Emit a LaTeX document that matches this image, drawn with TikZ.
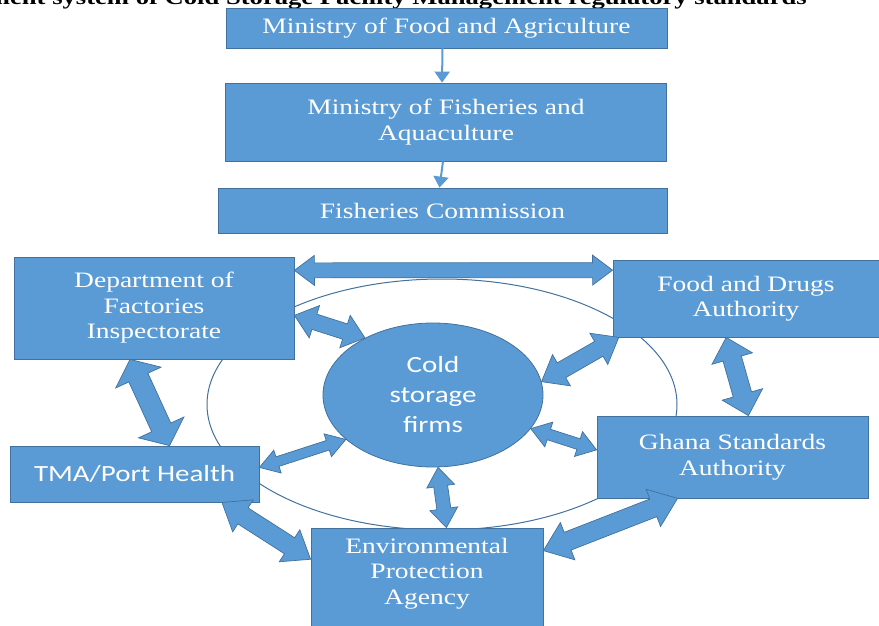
\documentclass[tikz,border=0pt]{standalone}
\usepackage{fontspec}
\setmainfont{Liberation Serif}[FakeStretch=1.25]
\newfontfamily\hubfont{Carlito}[FakeStretch=1.25]
\usepackage{tikz}
\usetikzlibrary{shapes.geometric}
\usetikzlibrary{calc,arrows.meta,positioning}
\definecolor{boxblue}{HTML}{5B9BD5}
\definecolor{boxline}{HTML}{41719C}
\tikzstyle{org}=[draw=boxline, fill=boxblue, line width=0.8pt, inner sep=0, text=white, align=center,
                 font=\fontsize{22}{25.5}\selectfont]
\tikzstyle{sansorg}=[org, font=\hubfont\fontsize{23.2}{30}\selectfont]
\tikzstyle{hub}=[sansorg, ellipse]
\tikzstyle{txt}=[inner sep=0, text=white, align=center, font=\fontsize{22}{25.5}\selectfont]
\tikzstyle{link}=[boxblue, line width=2pt, -{Triangle[width=15pt,length=11pt]}]
\tikzstyle{ring}=[boxline, line width=1pt]
\tikzstyle{fat}=[fill=boxblue, draw=boxline, line width=0.7pt, line join=miter]
% two-headed block arrow: from, to, half shaft, half head, head length
\newcommand{\twoway}[5]{%
  \filldraw[fat] (#1) -- ($(#1)!#5pt!(#2)!#4pt!90:(#2)$) -- ($(#1)!#5pt!(#2)!#3pt!90:(#2)$)
    -- ($(#2)!#5pt!(#1)!#3pt!-90:(#1)$) -- ($(#2)!#5pt!(#1)!#4pt!-90:(#1)$) -- (#2)
    -- ($(#2)!#5pt!(#1)!#4pt!90:(#1)$) -- ($(#2)!#5pt!(#1)!#3pt!90:(#1)$)
    -- ($(#1)!#5pt!(#2)!#3pt!-90:(#2)$) -- ($(#1)!#5pt!(#2)!#4pt!-90:(#2)$) -- cycle;}
\begin{document}
\begin{tikzpicture}[x=1pt, y=-1pt]
    \useasboundingbox (0,0) rectangle (879,626);
    \clip (0,0) rectangle (879,626);
    \node[anchor=base east, inner sep=0, font=\fontsize{21.3}{24}\selectfont\bfseries] (ttl) at (807,5)
        {ment system of Cold Storage Facility Management regulatory standards};
    % chain of command
    \node[org, minimum width=441pt, minimum height=40pt] (mofa) at (446.5,28) {Ministry of Food and Agriculture};
    \node[org, minimum width=441pt, minimum height=78pt] (mofad) at (446,122) {Ministry of Fisheries and\\Aquaculture};
    \node[org, minimum width=449pt, minimum height=45pt] (fc) at (442.5,210.5) {Fisheries Commission};
    \draw[link] ([xshift=-4pt]mofa.south) -- ([xshift=-4pt]mofad.north);
    \draw[link] ([xshift=-3pt]mofad.south) -- ([xshift=-3pt]fc.north);
    % regulators round the firms
    \draw[ring] (442,404.5) ellipse [x radius=235pt, y radius=125.5pt];
    \node[org, minimum width=280pt, minimum height=102pt] (dfi) at (154,308) {Department of\\Factories\\Inspectorate};
    \node[org, minimum width=266pt, minimum height=77pt] (fda) at (746,298.5) {Food and Drugs\\Authority};
    \node[org, minimum width=271pt, minimum height=82pt] (gsa) at (732.5,457) {Ghana Standards\\Authority};
    \node[sansorg, minimum width=249pt, minimum height=56pt] (tma) at (134.5,474) {TMA/Port Health};
    \node[org, minimum width=232pt, minimum height=112pt] (epa) at (427,584) {};
    \node[txt, below=10pt of epa.north] (epatxt) {Environmental\\Protection\\Agency};
    \node[hub, minimum width=220pt, minimum height=144pt] (csf) at (433,395) {Cold\\storage\\firms};
    \twoway{dfi.15}{fda.168}{7.5}{15}{20}
    \twoway{dfi.-3}{csf.140}{8}{17}{21}
    \twoway{fda.-163}{csf.7}{8.5}{18}{23}
    \twoway{fda.-117.5}{gsa.69.7}{9.5}{21}{22}
    \twoway{gsa.177.7}{csf.-19.7}{5.5}{13}{19}
    \twoway{dfi.-115.7}{tma.39.7}{10.5}{25}{20}
    \twoway{tma.3.1}{csf.-153.4}{5}{12}{19}
    \twoway{csf.-86.9}{epa.71}{7}{14}{19}
    \twoway{tma.-18.5}{epa.168.9}{9.5}{19}{25}
    \twoway{epa.16}{gsa.-143.4}{9.5}{20}{26}
\end{tikzpicture}
\end{document}
